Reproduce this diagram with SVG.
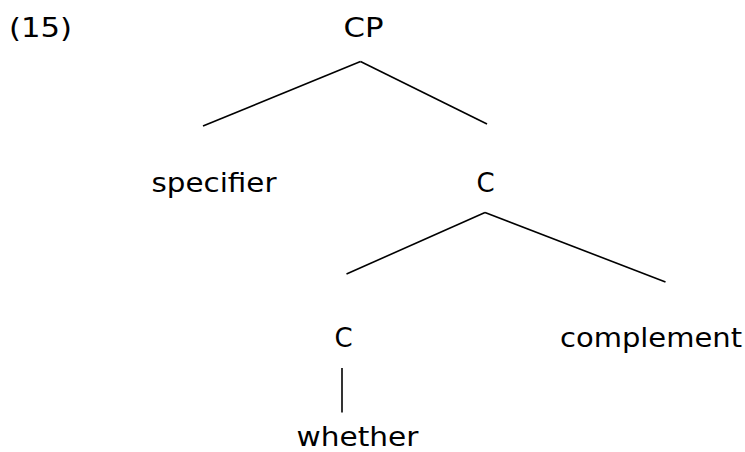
<svg xmlns="http://www.w3.org/2000/svg" width="745" height="452" viewBox="0 0 745 452">
  <style>
    text { font-family: "DejaVu Sans", Verdana, sans-serif; font-size: 26px; fill: #000; }
    .mid { text-anchor: middle; }
    .edge { stroke: #000; stroke-width: 1.6; fill: none; stroke-linecap: butt; }
  </style>
  <rect width="745" height="452" fill="#fff"/>
  <text id="label" x="9" y="37" textLength="63" lengthAdjust="spacingAndGlyphs">(15)</text>
  <g id="connectors">
    <line class="edge" x1="360.5" y1="61.5" x2="203" y2="126"/>
    <line class="edge" x1="360.5" y1="61.5" x2="487" y2="124"/>
    <line class="edge" x1="485" y1="212.5" x2="346.5" y2="274"/>
    <line class="edge" x1="485" y1="212.5" x2="665.5" y2="282"/>
    <line class="edge" x1="342" y1="368" x2="342" y2="412.5"/>
  </g>
  <g id="cp"><text x="343.5" y="37" textLength="40" lengthAdjust="spacingAndGlyphs">CP</text></g>
  <g id="specifier"><text x="151.5" y="192" textLength="125" lengthAdjust="spacingAndGlyphs">specifier</text></g>
  <g id="cbar"><text class="mid" x="485.5" y="192">C</text></g>
  <g id="c-head"><text class="mid" x="343.5" y="347">C</text></g>
  <g id="complement"><text x="560" y="347" textLength="182" lengthAdjust="spacingAndGlyphs">complement</text></g>
  <g id="whether"><text x="296.5" y="446" textLength="122" lengthAdjust="spacingAndGlyphs">whether</text></g>
</svg>
